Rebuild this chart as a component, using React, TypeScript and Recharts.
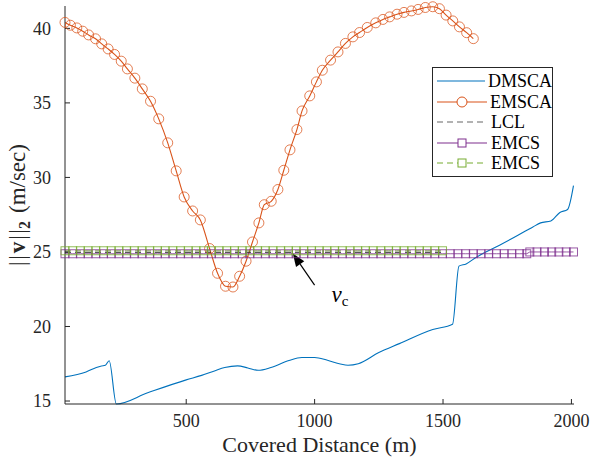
import React from "react";
import { LineChart, Line, XAxis, YAxis, ReferenceLine, ReferenceDot } from "recharts";

// DMSCA speed profile
const dmscaX = [28, 110, 150, 170, 185, 200, 228, 350, 500, 560, 610, 650, 700, 740, 780, 830, 900, 950, 1000, 1050, 1100, 1130, 1170, 1250, 1330, 1460, 1537, 1562, 1590, 1630, 1720, 1790, 1850, 1880, 1920, 1955, 1985, 2008];
const dmscaY = [16.62, 16.95, 17.25, 17.35, 17.4, 17.7, 14.8, 15.55, 16.42, 16.72, 17.02, 17.25, 17.36, 17.22, 17.06, 17.25, 17.72, 17.92, 17.92, 17.73, 17.48, 17.4, 17.5, 18.25, 18.85, 19.8, 20.15, 24.05, 24.2, 24.65, 25.45, 26.1, 26.68, 26.95, 27.08, 27.65, 27.85, 29.45];

// EMSCA speed profile (one value per circle)
const emscaX = [28, 49, 74, 97, 120, 147, 171, 196, 221, 247, 271, 300, 329, 361, 393, 428, 461, 492, 525, 555, 591, 622, 653, 682, 708, 733, 758, 783, 804, 831, 857, 880, 904, 931, 951, 981, 1007, 1030, 1062, 1091, 1120, 1149, 1175, 1205, 1238, 1266, 1292, 1321, 1348, 1377, 1403, 1431, 1460, 1486, 1512, 1538, 1564, 1592, 1618];
const emscaY = [40.4, 40.21, 40.03, 39.81, 39.56, 39.3, 38.96, 38.62, 38.25, 37.8, 37.28, 36.66, 35.94, 35.11, 33.93, 32.32, 30.44, 28.69, 27.75, 27.15, 25.23, 23.57, 22.7, 22.65, 23.37, 24.38, 25.67, 26.95, 28.17, 28.4, 29.19, 30.48, 31.85, 33.21, 34.46, 35.47, 36.41, 37.19, 37.87, 38.42, 38.99, 39.43, 39.72, 40.06, 40.37, 40.6, 40.77, 40.95, 41.07, 41.17, 41.27, 41.4, 41.45, 41.32, 40.89, 40.5, 40.1, 39.71, 39.31];

// LCL
const lclX = [28, 1508];
const lclY = [24.98, 24.98];

// EMCS (purple), two levels
const emcsLowX = [28, 58, 88, 118, 148, 178, 208, 238, 268, 298, 328, 358, 388, 418, 448, 478, 508, 538, 568, 598, 628, 658, 688, 718, 748, 778, 808, 838, 868, 898, 928, 958, 988, 1018, 1048, 1078, 1108, 1138, 1168, 1198, 1228, 1258, 1288, 1318, 1348, 1378, 1408, 1438, 1468, 1498, 1528, 1558, 1588, 1618, 1648, 1678, 1708, 1738, 1768, 1798, 1826];
const emcsLowLevel = 24.88;
const emcsHighX = [1838, 1866, 1895, 1923, 1951, 1980, 2008];
const emcsHighLevel = 25.0;

// EMCS (green, dashed)
const emcs2X = [28, 58, 88, 118, 148, 178, 208, 238, 268, 298, 328, 358, 388, 418, 448, 478, 508, 538, 568, 598, 628, 658, 688, 718, 748, 778, 808, 838, 868, 898, 928, 958, 988, 1018, 1048, 1078, 1108, 1138, 1168, 1198, 1228, 1258, 1288, 1318, 1348, 1378, 1408, 1438, 1468, 1498];
const emcs2Level = 25.08;

const xTicks = [500, 1000, 1500, 2000];
const yTicks = [15, 20, 25, 30, 35, 40];
const xDomain = [28, 2010];
const yDomain = [14.8, 41.5];

const zip = (xs: number[], ys: number[]) => xs.map((x, i) => ({ x, y: ys[i] }));

const dmscaData = zip(dmscaX, dmscaY);
const emscaData = zip(emscaX, emscaY);
const lclData = zip(lclX, lclY);
const emcsData = [
  ...emcsLowX.map((x) => ({ x, y: emcsLowLevel })),
  ...emcsHighX.map((x) => ({ x, y: emcsHighLevel })),
];
const emcs2Data = emcs2X.map((x) => ({ x, y: emcs2Level }));

const BLUE = "#0072BD";
const ORANGE = "#D95319";
const PURPLE = "#7E2F8E";
const GREEN = "#77AC30";
const AXIS = "#262626";
const FONT = "Liberation Serif";

const squareDot = (color: string) => (p: any) => (
  <rect
    key={`sq-${color}-${p.index}`}
    x={p.cx - 4}
    y={p.cy - 4}
    width={8}
    height={8}
    fill="none"
    stroke={color}
    strokeOpacity={0.8}
    strokeWidth={1}
  />
);

const Arrow = (props: any) => {
  const { x1, y1, x2, y2 } = props;
  const ang = Math.atan2(y2 - y1, x2 - x1);
  const len = 13;
  const w = 5;
  const bx = x2 - len * Math.cos(ang);
  const by = y2 - len * Math.sin(ang);
  const px = -Math.sin(ang) * w;
  const py = Math.cos(ang) * w;
  return (
    <g>
      <line x1={x1} y1={y1} x2={bx} y2={by} stroke="#000" strokeWidth={1.2} />
      <polygon points={`${x2},${y2} ${bx + px},${by + py} ${bx - px},${by - py}`} fill="#000" />
    </g>
  );
};

const VcLabel = (props: any) => (
  <text x={props.cx} y={props.cy} fontFamily={FONT} fill="#000">
    <tspan fontStyle="italic" fontSize={23}>v</tspan>
    <tspan fontSize={15} dy={4}>c</tspan>
  </text>
);

const legendItems = [
  { name: "DMSCA", color: BLUE, dash: undefined, marker: "none" },
  { name: "EMSCA", color: ORANGE, dash: undefined, marker: "circle" },
  { name: "LCL", color: "#666", dash: "6 4", marker: "none" },
  { name: "EMCS", color: PURPLE, dash: undefined, marker: "square" },
  { name: "EMCS", color: GREEN, dash: "6 4", marker: "square" },
];

function LegendBox() {
  return (
    <div
      style={{
        position: "absolute",
        left: 432,
        top: 67,
        width: 121,
        height: 110,
        boxSizing: "border-box",
        border: `1px solid ${AXIS}`,
        background: "#fff",
        paddingTop: 3,
        fontFamily: FONT,
        fontSize: 18,
        color: "#000",
      }}
    >
      {legendItems.map((it, i) => (
        <div key={i} style={{ display: "flex", alignItems: "center", height: 20.5 }}>
          <svg width={52} height={20} style={{ marginLeft: 3 }}>
            <line x1={1} y1={10} x2={51} y2={10} stroke={it.color} strokeWidth={1.2} strokeDasharray={it.dash} />
            {it.marker === "circle" && <circle cx={26} cy={10} r={5} fill="#fff" stroke={it.color} />}
            {it.marker === "square" && <rect x={22} y={6} width={8} height={8} fill="#fff" stroke={it.color} />}
          </svg>
          <span style={{ marginLeft: 3, lineHeight: "20px" }}>{it.name}</span>
        </div>
      ))}
    </div>
  );
}

export default function App() {
  return (
    <div style={{ position: "absolute", left: 0, top: 0, width: 609, height: 462, background: "#fff" }}>
      <LineChart width={609} height={462} margin={{ top: 6, right: 35, left: 0, bottom: 0 }}>
        <XAxis
          type="number"
          dataKey="x"
          domain={xDomain}
          ticks={xTicks}
          height={58}
          stroke={AXIS}
          tickSize={-5}
          tickMargin={15}
          tick={{ fill: AXIS, fontSize: 18, fontFamily: FONT }}
          label={{
            value: "Covered Distance (m)",
            position: "insideBottom",
            offset: 10,
            fill: AXIS,
            fontSize: 22,
            fontFamily: FONT,
          }}
        />
        <XAxis
          xAxisId="top"
          orientation="top"
          type="number"
          domain={xDomain}
          ticks={xTicks}
          height={0}
          mirror
          tick={false}
          tickSize={5}
          stroke={AXIS}
        />
        <YAxis
          type="number"
          domain={yDomain}
          ticks={yTicks}
          width={65}
          stroke={AXIS}
          tickSize={-5}
          tickMargin={19}
          tick={{ fill: AXIS, fontSize: 18, fontFamily: FONT }}
          label={{
            content: (p: any) => {
              const vb = p.viewBox;
              const cx = vb.x + 25;
              const cy = vb.y + vb.height / 2;
              return (
                <text
                  transform={`translate(${cx},${cy}) rotate(-90)`}
                  textAnchor="middle"
                  fontFamily={FONT}
                  fontSize={23}
                  fill={AXIS}
                >
                  <tspan>|</tspan>
                  <tspan dx={1.5}>|</tspan>
                  <tspan dx={2} fontWeight="bold">v</tspan>
                  <tspan dx={2}>|</tspan>
                  <tspan dx={1.5}>|</tspan>
                  <tspan fontWeight="bold" fontSize={16} dy={5}>2</tspan>
                  <tspan dy={-5} dx={8}>(m/sec)</tspan>
                </text>
              );
            },
          }}
        />
        <YAxis
          yAxisId="right"
          orientation="right"
          type="number"
          domain={yDomain}
          ticks={yTicks}
          width={0}
          mirror
          tick={false}
          tickSize={5}
          stroke={AXIS}
        />
        <Line
          data={dmscaData}
          dataKey="y"
          type="monotone"
          stroke={BLUE}
          strokeWidth={1.1}
          dot={false}
          isAnimationActive={false}
        />
        <Line
          data={emscaData}
          dataKey="y"
          type="monotone"
          stroke={ORANGE}
          strokeWidth={1.1}
          dot={{ r: 5, fill: "none", stroke: ORANGE, strokeOpacity: 0.75, strokeWidth: 1 }}
          isAnimationActive={false}
        />
        <Line
          data={lclData}
          dataKey="y"
          type="linear"
          stroke="#222"
          strokeWidth={1.2}
          strokeDasharray="6 4"
          dot={false}
          isAnimationActive={false}
        />
        <Line
          data={emcsData}
          dataKey="y"
          type="linear"
          stroke={PURPLE}
          strokeOpacity={0.8}
          strokeWidth={1}
          dot={squareDot(PURPLE)}
          isAnimationActive={false}
        />
        <Line
          data={emcs2Data}
          dataKey="y"
          type="linear"
          stroke={GREEN}
          strokeOpacity={0.8}
          strokeWidth={1}
          strokeDasharray="6 4"
          dot={squareDot(GREEN)}
          isAnimationActive={false}
        />
        <ReferenceLine
          segment={[
            { x: 1000, y: 22.77 },
            { x: 915, y: 24.9 },
          ]}
          shape={Arrow}
        />
        <ReferenceDot x={1066} y={21.62} r={0} shape={VcLabel} />
      </LineChart>
      <LegendBox />
    </div>
  );
}
